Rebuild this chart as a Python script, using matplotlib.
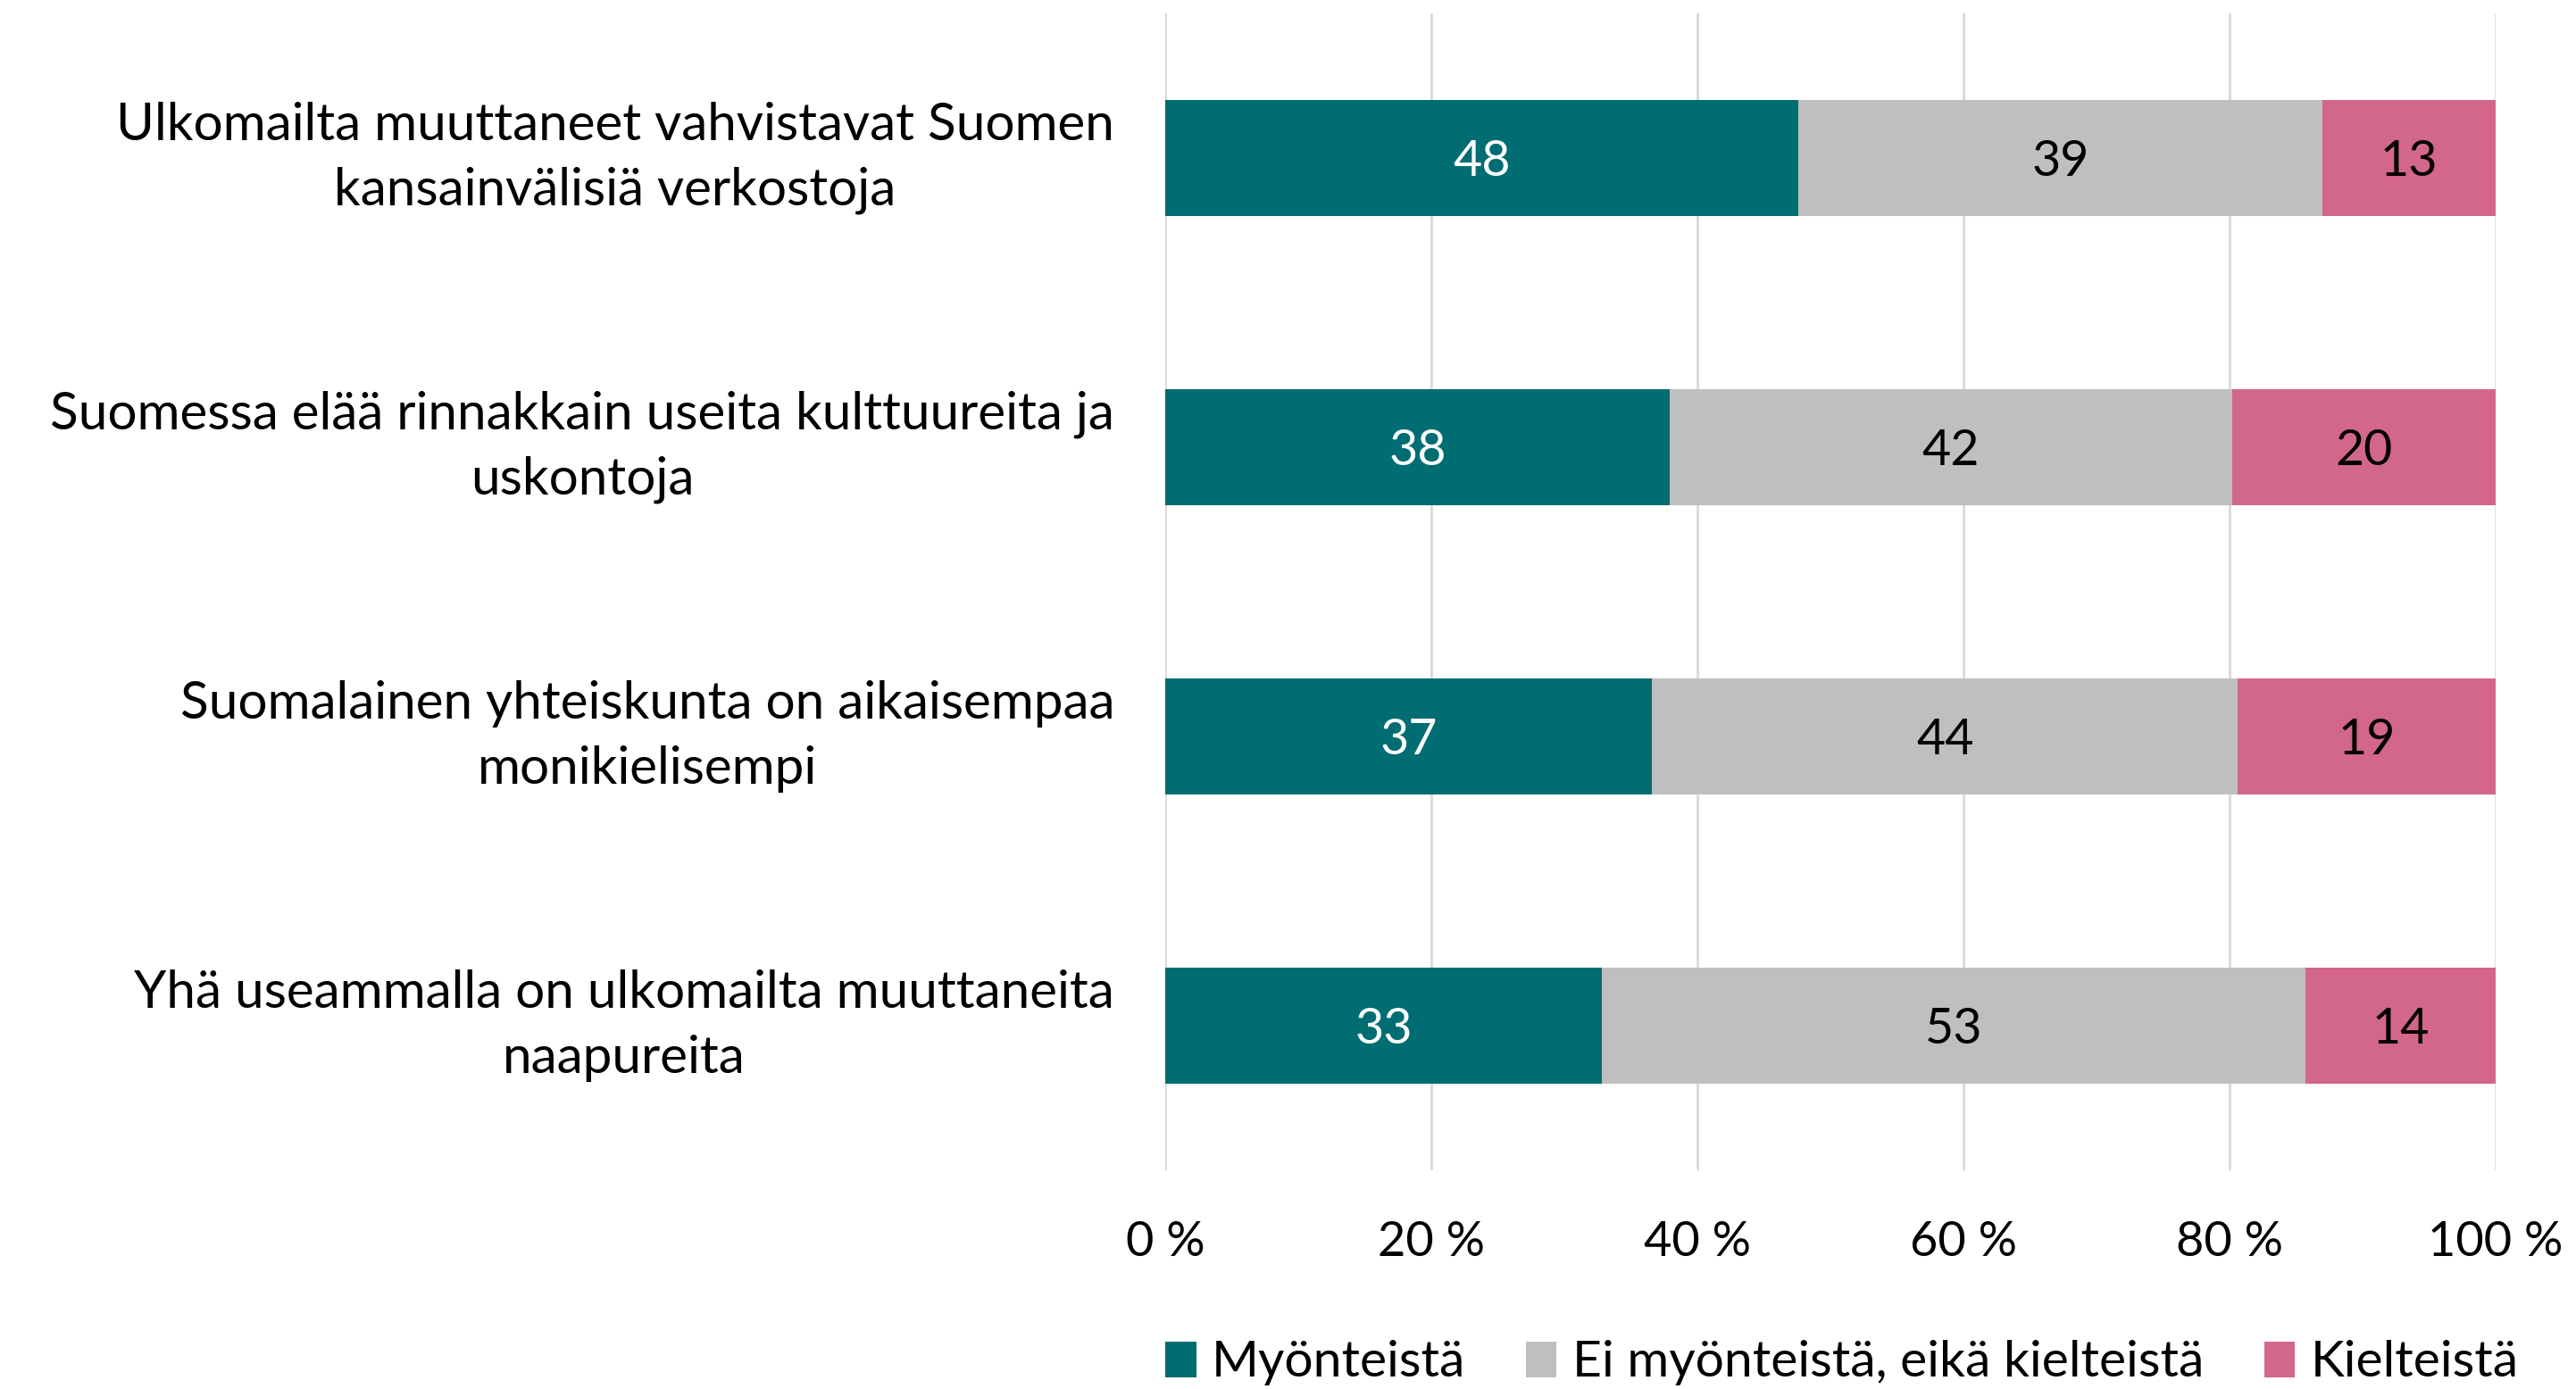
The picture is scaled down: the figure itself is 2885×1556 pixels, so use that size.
import matplotlib.pyplot as plt
import numpy as np

categories = [
    "Ulkomailta muuttaneet vahvistavat Suomen\nkansainvälisiä verkostoja",
    "Suomessa elää rinnakkain useita kulttuureita ja\nuskontoja",
    "Suomalainen yhteiskunta on aikaisempaa\nmonikielisempi",
    "Yhä useammalla on ulkomailta muuttaneita\nnaapureita",
]
series_names = ["Myönteistä", "Ei myönteistä, eikä kielteistä", "Kielteistä"]
positive = [47.6, 37.9, 36.6, 32.8]
neutral = [39.4, 42.3, 44.0, 52.9]
negative = [13.0, 19.8, 19.4, 14.3]
labels = [
    [48, 38, 37, 33],
    [39, 42, 44, 53],
    [13, 20, 19, 14],
]
xticks = [0, 20, 40, 60, 80, 100]

colors = ["#006D72", "#BFBFBF", "#D3668C"]
text_colors = ["white", "black", "black"]

plt.rcParams['font.family'] = ['Lato', 'DejaVu Sans']

W, H = 2885, 1556
fig = plt.figure(figsize=(W / 100, H / 100), dpi=100)
ax = fig.add_axes([1305 / W, 1 - 1311 / H, (2795 - 1305) / W, (1311 - 15) / H])

y = np.arange(len(categories))
left = np.zeros(len(categories))
for i, vals in enumerate([positive, neutral, negative]):
    bars = ax.barh(y, vals, left=left, height=0.4, color=colors[i], label=series_names[i], zorder=3)
    for b, lab in zip(bars, labels[i]):
        ax.text(b.get_x() + b.get_width() / 2, b.get_y() + b.get_height() / 2 + 0.015, str(lab),
                ha='center', va='center', color=text_colors[i], fontsize=40, zorder=4)
    left += np.array(vals)

ax.set_xlim(0, 100)
ax.set_ylim(len(categories) - 0.5, -0.5)
ax.set_xticks(xticks)
ax.set_xticklabels([f"{t} %" for t in xticks], fontsize=39)
ax.set_yticks(y)
ax.set_yticklabels([])
ax.tick_params(axis='y', length=0)
ax.tick_params(axis='x', length=0, pad=40)

# category labels: right edge of block near x=1248 px, lines centered
for yi, cat in zip(y, categories):
    ax.text(-(1305 - 1248) / 1490, yi, cat, transform=ax.get_yaxis_transform(),
            ha='right', va='center', multialignment='center', fontsize=42, linespacing=1.45)

ax.xaxis.grid(True, color='#D9D9D9', linewidth=2, zorder=0)
for s in ax.spines.values():
    s.set_visible(False)

ax.legend(loc='center', bbox_to_anchor=(2063 / W, (1556 - 1527) / H), bbox_transform=fig.transFigure,
          ncol=3, frameon=False, fontsize=41, handlelength=0.6, handleheight=0.7,
          handletextpad=0.3, columnspacing=1.2)

fig.savefig("out.png", dpi=100)
